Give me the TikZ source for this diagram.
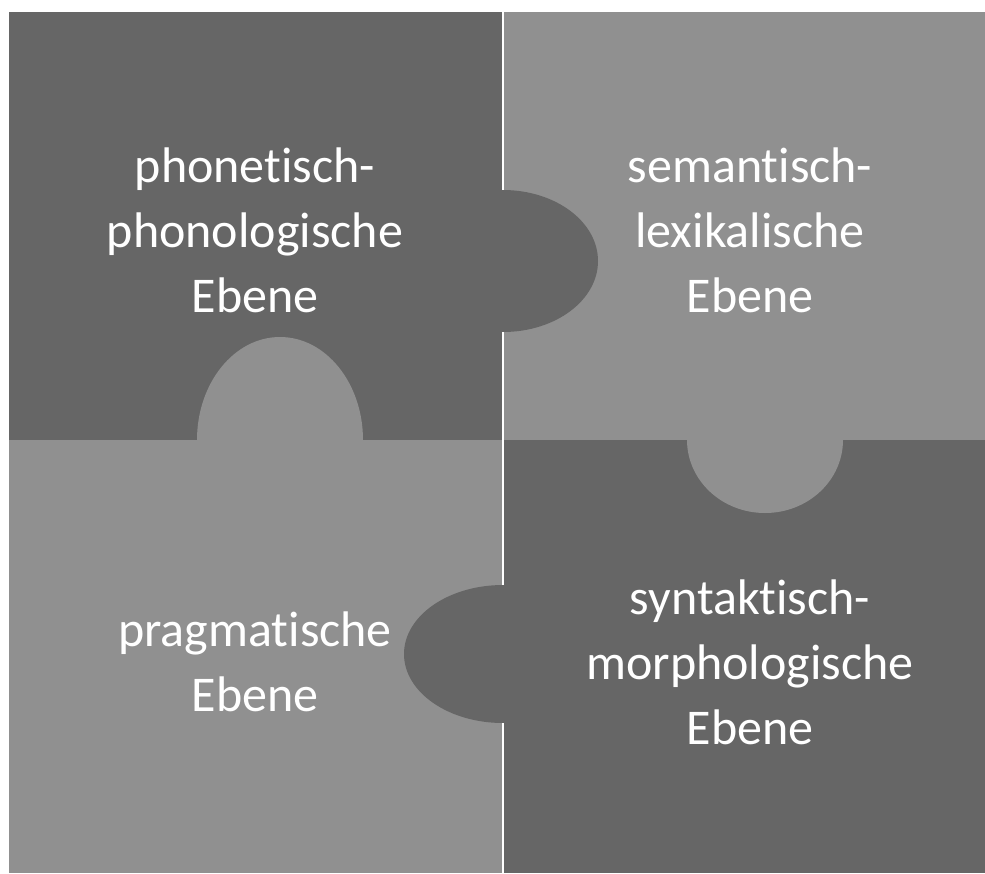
\documentclass[tikz,border=0pt]{standalone}
\usepackage{fontspec}
\setmainfont{Carlito}[Ligatures=NoCommon]
\definecolor{piecedark}{RGB}{102,102,102}
\definecolor{piecelight}{RGB}{144,144,144}
\begin{document}
\begin{tikzpicture}[x=1pt,y=-1pt,
    label/.style={text=white,align=center,inner sep=0pt,font=\fontsize{50}{65}\selectfont},
    seam/.style={white,line width=2pt}]
    \useasboundingbox[fill=white] (0,0) rectangle (985,873);

    % the four pieces
    \fill[piecedark]  (9,12)   rectangle (503,440);
    \fill[piecelight] (503,12) rectangle (985,440);
    \fill[piecelight] (9,440)  rectangle (503,873);
    \fill[piecedark]  (503,440) rectangle (985,873);

    % tabs
    \fill[piecedark]  (503,261) ellipse [x radius=95, y radius=71];
    \fill[piecelight] (280,440) ellipse [x radius=83, y radius=103];
    \fill[piecelight] (765,440) ellipse [x radius=78, y radius=73];
    \fill[piecedark]  (503,654) ellipse [x radius=99, y radius=69];

    % seams between the pieces
    \draw[seam] (503,12) -- (503,190);
    \draw[seam] (503,332) -- (503,585);
    \draw[seam] (503,723) -- (503,873);

    \node[label] (phon) at (255,230) {phonetisch-\\phonologische\\Ebene};
    \node[label] (sem)  at (750,230) {semantisch-\\lexikalische\\Ebene};
    \node[label] (prag) at (255,662) {pragmatische\\Ebene};
    \node[label] (synt) at (750,662) {syntaktisch-\\morphologische\\Ebene};
  \end{tikzpicture}
\end{document}
